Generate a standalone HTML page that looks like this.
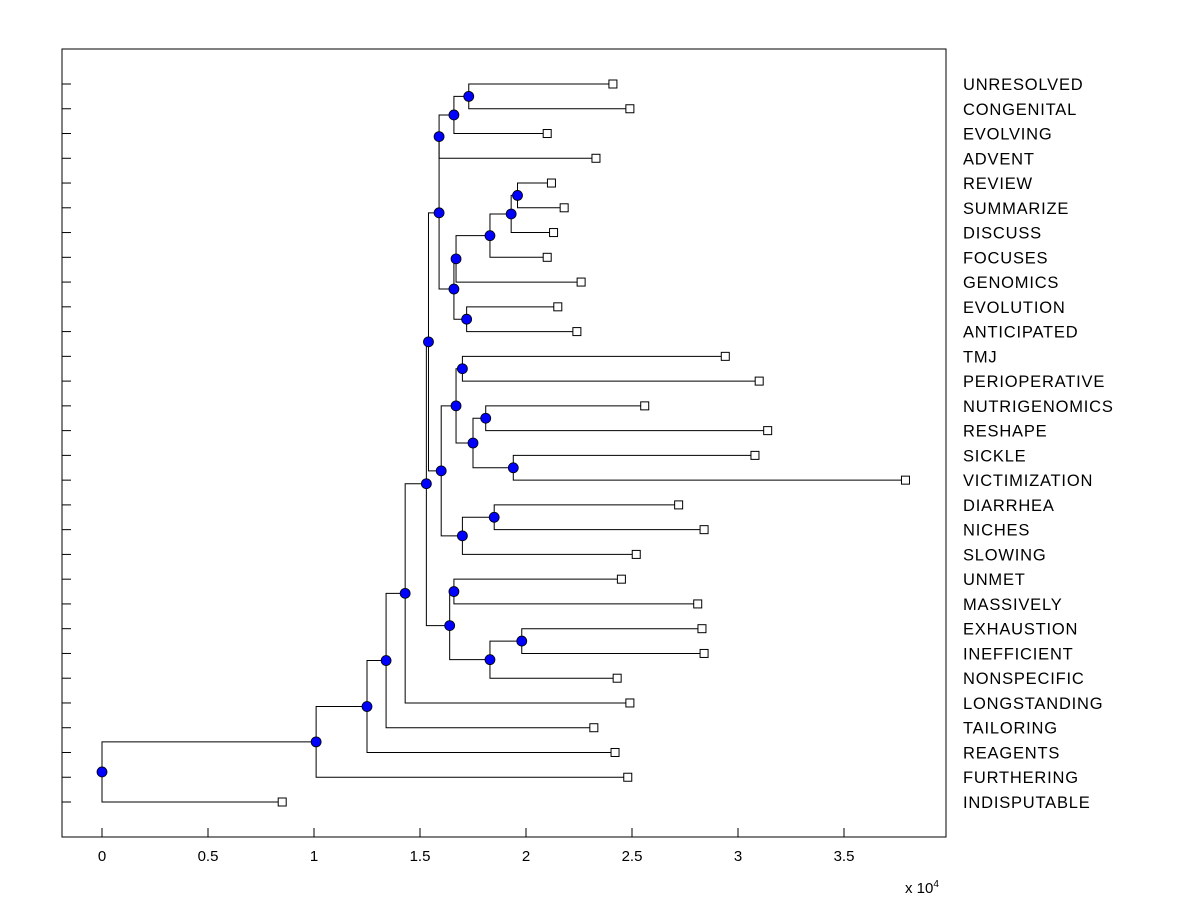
<!DOCTYPE html>
<html><head><meta charset="utf-8"><style>
body{margin:0;background:#fff;}
svg text{font-family:"Liberation Sans",Arial,sans-serif;}
</style></head><body>
<svg id="chart" width="1200" height="900" xmlns="http://www.w3.org/2000/svg">
<rect x="0" y="0" width="1200" height="900" fill="#fff"/>
<rect x="62" y="49" width="884" height="788" fill="#fff" stroke="#000" stroke-width="1"/>
<g id="g"></g>
</svg>
<script>
const leafNames=["UNRESOLVED","CONGENITAL","EVOLVING","ADVENT","REVIEW","SUMMARIZE","DISCUSS","FOCUSES","GENOMICS","EVOLUTION","ANTICIPATED","TMJ","PERIOPERATIVE","NUTRIGENOMICS","RESHAPE","SICKLE","VICTIMIZATION","DIARRHEA","NICHES","SLOWING","UNMET","MASSIVELY","EXHAUSTION","INEFFICIENT","NONSPECIFIC","LONGSTANDING","TAILORING","REAGENTS","FURTHERING","INDISPUTABLE"];
const leafValues=[2.41,2.49,2.10,2.33,2.12,2.18,2.13,2.10,2.26,2.15,2.24,2.94,3.10,2.56,3.14,3.08,3.79,2.72,2.84,2.52,2.45,2.81,2.83,2.84,2.43,2.49,2.32,2.42,2.48,0.85];
const mergeA=[0,"m0","m1",4,"m3","m4","m5",9,"m6","m2",11,13,15,"m11","m10",17,"m15","m14","m9",20,22,"m20","m19","m18","m23","m24","m25","m26","m27"];
const mergeB=[1,2,3,5,6,7,8,10,"m7","m8",12,14,16,"m12","m13",18,19,"m16","m17",21,23,24,"m21","m22",25,26,27,28,29];
const mergeHeights=[1.73,1.66,1.59,1.96,1.93,1.83,1.67,1.72,1.66,1.59,1.70,1.81,1.94,1.75,1.67,1.85,1.70,1.60,1.54,1.66,1.98,1.83,1.64,1.53,1.43,1.34,1.25,1.01,0];
const xTicks=[0,0.5,1,1.5,2,2.5,3,3.5];
const xTickLabels=["0","0.5","1","1.5","2","2.5","3","3.5"];

const NS="http://www.w3.org/2000/svg";
const g=document.getElementById('g');
const X=v=>102+v*212;
const Y=i=>84+i*(802-84)/29;
function mk(tag,attrs,parent){const e=document.createElementNS(NS,tag);for(const k in attrs)e.setAttribute(k,attrs[k]);(parent||g).appendChild(e);return e;}

xTicks.forEach((t,i)=>{
  const l=mk('line',{x1:X(t),x2:X(t),y1:837,y2:828,stroke:'#000'});
  
  
  const tx=mk('text',{x:X(t),y:861,'font-size':15,'text-anchor':'middle'});
  tx.textContent=xTickLabels[i];
  
  
});
leafNames.forEach((n,i)=>{
  const l=mk('line',{x1:62,x2:71,y1:Y(i),y2:Y(i),stroke:'#000'});
  
  
  const tx=mk('text',{x:963,y:Y(i)+6,'font-size':16.5,'letter-spacing':'0.8'});
  tx.textContent=n;
  
  
});
const ex=mk('text',{x:905,y:893,'font-size':15});
ex.innerHTML='x 10<tspan dy="-6" font-size="10">4</tspan>';



const pos={};
leafValues.forEach((v,i)=>{pos[i]={x:X(v),y:Y(i)};});
const markers=[];
mergeHeights.forEach((h,k)=>{
  const a=pos[mergeA[k]],b=pos[mergeB[k]],x=X(h);
  const p=mk('path',{d:`M${a.x},${a.y}H${x}V${b.y}H${b.x}`,fill:'none',stroke:'#000','stroke-width':1});
  
  
  pos['m'+k]={x:x,y:(a.y+b.y)/2};
  markers.push(pos['m'+k]);
});
leafValues.forEach((v,i)=>{
  const r=mk('rect',{x:X(v)-4,y:Y(i)-4,width:8,height:8,fill:'#fff',stroke:'#000'});
  
  
});
markers.forEach(m=>{
  const c=mk('circle',{cx:m.x,cy:m.y,r:5,fill:'#0000ff',stroke:'#000','stroke-width':0.8});
  
  
});
</script>
</body></html>
